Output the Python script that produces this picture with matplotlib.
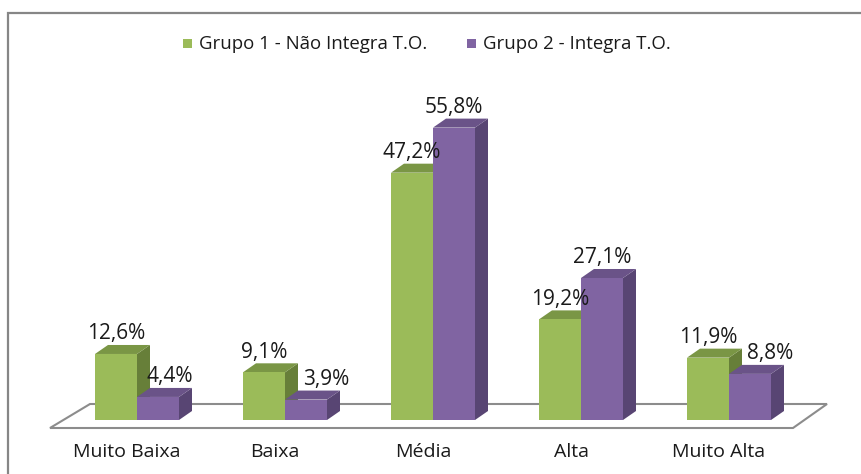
import matplotlib
matplotlib.use('Agg')
import matplotlib.pyplot as plt
from matplotlib.patches import Polygon, Rectangle

plt.rcParams['font.family'] = ['Open Sans', 'DejaVu Sans']

categories = ['Muito Baixa', 'Baixa', 'Média', 'Alta', 'Muito Alta']
grupo1 = [12.6, 9.1, 47.2, 19.2, 11.9]
grupo2 = [4.4, 3.9, 55.8, 27.1, 8.8]
series_names = ['Grupo 1 - Não Integra T.O.', 'Grupo 2 - Integra T.O.']

# front / top / side colours for the fake 3d bars
green = ('#9bbb59', '#7a9645', '#677f39')
purple = ('#8064a2', '#6a5388', '#584573')

W, H = 861, 474
# pixel layout of the plot (category spacing, % scale, baseline)
X0, XS = 137, 148
Y0, YS = 420, 5.24

fig = plt.figure(figsize=(W / 100, H / 100), dpi=100)
ax = fig.add_axes([0, 0, 1, 1])
ax.set_xlim(-X0 / XS, (W - X0) / XS)
ax.set_ylim(-(H - Y0) / YS, Y0 / YS)
ax.axis('off')

def px(x):  # pixel width -> category units
    return x / XS

def py(y):  # pixel height -> percent units
    return y / YS

bw = px(42)
ddx, ddy = px(13), py(9)

# floor
floor = Polygon([(px(50 - X0), -py(8)), (px(793 - X0), -py(8)),
                 (px(827 - X0), py(16)), (px(90 - X0), py(16))],
                closed=True, facecolor='white', edgecolor='#8c8c8c', lw=1.5)
ax.add_patch(floor)

def bar3d(x, v, cols):
    front, top, side = cols
    ax.add_patch(Polygon([(x + bw, 0), (x + bw + ddx, ddy), (x + bw + ddx, v + ddy), (x + bw, v)],
                         closed=True, facecolor=side, edgecolor='none'))
    ax.add_patch(Polygon([(x, v), (x + ddx, v + ddy), (x + bw + ddx, v + ddy), (x + bw, v)],
                         closed=True, facecolor=top, edgecolor='none'))
    ax.add_patch(Rectangle((x, 0), bw, v, facecolor=front, edgecolor='none'))

def pct(v):
    return f'{v:.1f}%'.replace('.', ',')

# small right nudges (px) for purple labels sitting beside a taller green bar
nudge2 = [12, 20, 0, 0, 20]
fs = 14
fs_val = 15

for i, cat in enumerate(categories):
    bar3d(i - bw, grupo1[i], green)
    bar3d(i, grupo2[i], purple)
    ax.text(i - bw / 2, grupo1[i] + ddy + py(11), pct(grupo1[i]),
            ha='center', va='center', fontsize=fs_val, color='#1a1a1a')
    ax.text(i + bw / 2 + px(nudge2[i]), grupo2[i] + ddy + py(11), pct(grupo2[i]),
            ha='center', va='center', fontsize=fs_val, color='#1a1a1a')
    ax.text(i - px(10), -py(32), cat, ha='center', va='center',
            fontsize=fs, color='#1a1a1a')

# legend
for (x0, name, c) in [(183, series_names[0], green[0]), (467, series_names[1], purple[0])]:
    fig.add_artist(Rectangle((x0 / W, 1 - 48 / H), 9 / W, 9 / H,
                             transform=fig.transFigure, facecolor=c, edgecolor='none'))
    fig.text((x0 + 16) / W, 1 - 44 / H, name, ha='left', va='center',
             fontsize=13.4, color='#1a1a1a')

# chart frame (only left and top edges are inside the picture)
fig.add_artist(Rectangle((8 / W, -0.1), 1.2, 1.1 - 13 / H, transform=fig.transFigure,
                         facecolor='none', edgecolor='#868686', lw=1.6))

fig.savefig('out.png', dpi=100)
